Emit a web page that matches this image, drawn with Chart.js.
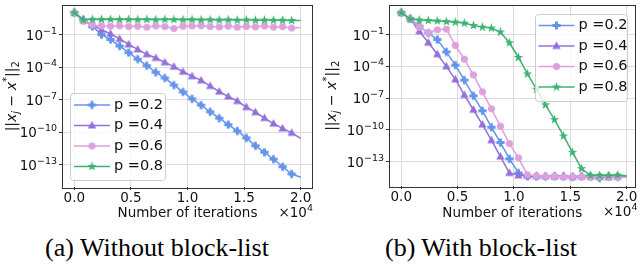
<!DOCTYPE html>
<html>
<head>
<meta charset="utf-8">
<script src="https://cdn.jsdelivr.net/npm/chart.js@4.4.0/dist/chart.umd.min.js"></script>
<style>
  body { margin: 0; background: #fff; }
  #wrap { position: relative; width: 640px; height: 268px; overflow: hidden; }
  .panel { position: absolute; top: 0; height: 232px; }
  .caption {
    position: absolute; top: 233px; transform: translateX(-50%); white-space: nowrap;
    font-family: "Liberation Serif", "Times New Roman", serif; font-size: 26px; color: #000;
  }
</style>
</head>
<body>
<div id="wrap">
  <div class="panel" style="left:0;width:320px"><canvas id="chartA"></canvas></div>
  <div class="panel" style="left:320px;width:320px"><canvas id="chartB"></canvas></div>
  <div class="caption" style="left:157px">(a) Without block-list</div>
  <div class="caption" style="left:481px">(b) With block-list</div>
</div>
<script>
// iterations where each point is drawn
const iterations = [0, 800, 1600, 2400, 3200, 4000, 4800, 5600, 6400, 7200, 8000, 8800, 9600,
  10400, 11200, 12000, 12800, 13600, 14400, 15200, 16000, 16800, 17600, 18400, 19200, 20000];
const seriesLabels = ["p =0.2", "p =0.4", "p =0.6", "p =0.8"];
const xTicks = [0, 5000, 10000, 15000, 20000];
const xTickLabels = ["0.0", "0.5", "1.0", "1.5", "2.0"];
const yTicks = [1e-1, 1e-4, 1e-7, 1e-10, 1e-13];
const yTickExponents = ["−1", "−4", "−7", "−10", "−13"];

// log10 of ||x_j - x*||_2, without block-list
const noBlockP02 = [1.03, 0.36, -0.24, -1.0, -1.45, -2.05, -2.66, -3.26, -3.86, -4.47, -5.0, -5.65, -6.28,
  -6.92, -7.5, -8.12, -8.7, -9.3, -9.88, -10.52, -11.25, -11.85, -12.48, -13.18, -13.85, -14.15];
const noBlockP04 = [1.03, 0.36, -0.15, -0.55, -0.91, -1.39, -1.9, -2.36, -2.81, -3.15, -3.55, -3.95, -4.42,
  -4.83, -5.22, -5.73, -6.25, -6.7, -7.12, -7.68, -8.15, -8.69, -9.2, -9.65, -10.05, -10.56];
const noBlockP06 = [1.03, 0.25, -0.12, -0.2, -0.22, -0.18, -0.25, -0.22, -0.3, -0.2, -0.25, -0.42, -0.22,
  -0.2, -0.18, -0.25, -0.28, -0.22, -0.3, -0.24, -0.28, -0.2, -0.3, -0.26, -0.38, -0.35];
const noBlockP08 = [1.03, 0.36, 0.42, 0.41, 0.42, 0.4, 0.41, 0.39, 0.4, 0.38, 0.4, 0.39, 0.38,
  0.39, 0.37, 0.38, 0.36, 0.37, 0.35, 0.36, 0.34, 0.35, 0.33, 0.34, 0.31, 0.3];

// log10 of ||x_j - x*||_2, with block-list
const blockP02 = [1.08, 0.5, -0.2, -0.85, -1.46, -2.63, -3.88, -5.3, -6.78, -8.2, -9.75, -11.2, -12.74,
  -14.08, -14.39, -14.4, -14.42, -14.38, -14.4, -14.45, -14.4, -14.42, -14.55, -14.4, -14.45, -14.4];
const blockP04 = [1.08, 0.5, -0.68, -1.75, -2.85, -4.0, -5.23, -6.7, -8.1, -9.5, -10.98, -12.53, -14.08,
  -14.3, -14.35, -14.38, -14.4, -14.42, -14.4, -14.45, -14.42, -14.4, -14.45, -14.48, -14.42, -14.45];
const blockP06 = [1.08, 0.5, -0.29, -0.8, -0.54, -0.47, -2.02, -3.32, -4.8, -6.41, -8.01, -9.66, -11.3,
  -12.65, -14.25, -14.35, -14.4, -14.38, -14.45, -14.4, -14.42, -14.5, -14.4, -14.45, -14.5, -14.45];
const blockP08 = [1.08, 0.47, 0.39, 0.34, 0.3, 0.24, 0.18, 0.09, -0.13, -0.29, -0.38, -0.75, -1.77,
  -3.16, -4.71, -6.16, -7.64, -9.03, -10.58, -12.13, -13.67, -14.3, -14.3, -14.32, -14.28, -14.35];

const colors = ["#6495ed", "#9370db", "#dda0dd", "#3cb371"];
const shapes = ["plus", "triangle", "circle", "star"];

const FONT = "'DejaVu Sans'";
const tickFont = { family: "DejaVu Sans", size: 13.5 };

// small canvases used as point markers
function makeMarker(shape, color) {
  const c = document.createElement("canvas");
  c.width = 11;
  c.height = 11;
  const g = c.getContext("2d");
  const cx = 5.5, cy = 5.5;
  g.fillStyle = color;
  g.beginPath();
  if (shape === "plus") {
    const a = 1.5, b = 4.1;
    const pts = [[-a, -b], [a, -b], [a, -a], [b, -a], [b, a], [a, a], [a, b], [-a, b], [-a, a], [-b, a], [-b, -a], [-a, -a]];
    pts.forEach((p) => g.lineTo(cx + p[0], cy + p[1]));
  } else if (shape === "triangle") {
    g.moveTo(cx, cy - 4.4);
    g.lineTo(cx + 4.2, cy + 3.1);
    g.lineTo(cx - 4.2, cy + 3.1);
  } else if (shape === "circle") {
    g.arc(cx, cy, 3.6, 0, Math.PI * 2);
  } else {
    for (let i = 0; i < 10; i++) {
      const r = i % 2 === 0 ? 5 : 2;
      const ang = -Math.PI / 2 + (i * Math.PI) / 5;
      g.lineTo(cx + r * Math.cos(ang), cy + r * Math.sin(ang));
    }
  }
  g.closePath();
  g.fill();
  return c;
}

const markers = shapes.map((s, i) => makeMarker(s, colors[i]));

function buildDatasets(series) {
  return series.map((vals, i) => ({
    label: seriesLabels[i],
    data: vals.map((v, k) => ({ x: iterations[k], y: Math.pow(10, v) })),
    borderColor: colors[i],
    backgroundColor: colors[i],
    borderWidth: 1.5,
    pointStyle: markers[i],
    pointRadius: (ctx) => (ctx.dataIndex === iterations.length - 1 ? 0 : 4),
    tension: 0,
    order: 4 - i,
  }));
}

// text made of pieces with their own size / style / vertical shift
function drawPieces(ctx, pieces, x, y, align) {
  const widths = pieces.map((p) => {
    ctx.font = (p.italic ? "italic " : "") + p.size + "px " + FONT;
    return ctx.measureText(p.text).width;
  });
  const total = widths.reduce((s, w) => s + w, 0);
  let cx = align === "right" ? x - total : align === "center" ? x - total / 2 : x;
  ctx.textAlign = "left";
  ctx.textBaseline = "alphabetic";
  pieces.forEach((p, i) => {
    ctx.font = (p.italic ? "italic " : "") + p.size + "px " + FONT;
    ctx.fillText(p.text, cx, y + (p.dy || 0));
    cx += widths[i];
  });
}

// box, y tick labels, axis titles, legend and x offset text
const extras = {
  id: "extras",
  afterDatasetsDraw(chart, args, opts) {
    const a = chart.chartArea;
    const ctx = chart.ctx;
    ctx.save();
    ctx.strokeStyle = "#333";
    ctx.lineWidth = 1;
    ctx.strokeRect(Math.round(a.left) - 0.5, Math.round(a.top) - 0.5, Math.round(a.right - a.left) + 1, Math.round(a.bottom - a.top) + 1);

    ctx.fillStyle = "#111";
    const ys = chart.scales.y;
    yTicks.forEach((v, i) => {
      const py = ys.getPixelForValue(v);
      drawPieces(ctx, [
        { text: "10", size: 13.5 },
        { text: yTickExponents[i], size: 9.5, dy: -6 },
      ], a.left - 6, py + 5, "right");
    });

    ctx.save();
    ctx.translate(11, (a.top + a.bottom) / 2);
    ctx.rotate(-Math.PI / 2);
    drawPieces(ctx, [
      { text: "||", size: 14 },
      { text: "x", size: 14, italic: true },
      { text: "j", size: 10, italic: true, dy: 3 },
      { text: " − ", size: 14 },
      { text: "x", size: 14, italic: true },
      { text: "*", size: 10, dy: -6 },
      { text: "||", size: 14 },
      { text: "2", size: 10, dy: 3 },
    ], 0, 5, "center");
    ctx.restore();

    drawPieces(ctx, [
      { text: "×10", size: 13.5 },
      { text: "4", size: 9.5, dy: -6 },
    ], a.right + opts.offsetShift, a.bottom + 30, "right");

    const w = opts.width, h = opts.height;
    const x = opts.corner === "ur" ? a.right - opts.pad - w : a.left + opts.pad;
    const y = opts.corner === "ur" ? a.top + opts.pad : a.bottom - opts.pad - h;
    ctx.beginPath();
    ctx.roundRect(Math.round(x) + 0.5, Math.round(y) + 0.5, w, h, 3);
    ctx.fillStyle = "rgba(255,255,255,0.8)";
    ctx.fill();
    ctx.strokeStyle = "#cccccc";
    ctx.lineWidth = 1;
    ctx.stroke();
    ctx.font = "14.5px " + FONT;
    ctx.textAlign = "left";
    ctx.textBaseline = "middle";
    chart.data.datasets.forEach((ds, i) => {
      const ly = y + 12 + i * 20.5;
      ctx.strokeStyle = ds.borderColor;
      ctx.lineWidth = 1.5;
      ctx.beginPath();
      ctx.moveTo(x + 4, ly);
      ctx.lineTo(x + 40, ly);
      ctx.stroke();
      ctx.drawImage(ds.pointStyle, x + 22 - 5.5, ly - 5.5);
      ctx.fillStyle = "#111";
      ctx.fillText(ds.label, x + 44, ly);
    });
    ctx.restore();
  },
};

function makeOptions(cfg) {
  return {
    responsive: true,
    maintainAspectRatio: false,
    animation: false,
    events: [],
    layout: { padding: { left: 0, right: cfg.padRight, top: 2, bottom: 0 } },
    scales: {
      x: {
        type: "linear",
        min: -1000,
        max: cfg.xMax,
        afterBuildTicks: (s) => { s.ticks = xTicks.map((v) => ({ value: v })); },
        afterFit: (s) => { s.height = cfg.xHeight; },
        ticks: { callback: (v, i) => xTickLabels[i], font: tickFont, color: "#111", padding: 0, maxRotation: 0, autoSkip: false },
        grid: { color: "#dcdcdc", tickColor: "#333", tickLength: 3 },
        border: { display: false },
        title: { display: true, text: "Number of iterations", font: tickFont, color: "#111", padding: { top: 0, bottom: 10 } },
      },
      y: {
        type: "logarithmic",
        min: Math.pow(10, cfg.yMin),
        max: Math.pow(10, cfg.yMax),
        afterBuildTicks: (s) => { s.ticks = yTicks.map((v) => ({ value: v })); },
        afterFit: (s) => { s.width = cfg.yWidth; },
        ticks: { display: false },
        grid: { color: "#dcdcdc", tickColor: "#333", tickLength: 4 },
        border: { display: false },
      },
    },
    plugins: {
      legend: { display: false },
      tooltip: { enabled: false },
      extras: cfg.legend,
    },
  };
}

new Chart(document.getElementById("chartA"), {
  type: "line",
  data: { datasets: buildDatasets([noBlockP02, noBlockP04, noBlockP06, noBlockP08]) },
  options: makeOptions({
    padRight: 8, xMax: 21000, xHeight: 45, yWidth: 63, yMin: -15.05, yMax: 1.69,
    legend: { corner: "ll", pad: 7, width: 95, height: 87, offsetShift: 1 },
  }),
  plugins: [extras],
});

new Chart(document.getElementById("chartB"), {
  type: "line",
  data: { datasets: buildDatasets([blockP02, blockP04, blockP06, blockP08]) },
  options: makeOptions({
    padRight: 5, xMax: 20700, xHeight: 46, yWidth: 70, yMin: -15.31, yMax: 1.755,
    legend: { corner: "ur", pad: 8, width: 92, height: 87, offsetShift: 3 },
  }),
  plugins: [extras],
});
</script>
</body>
</html>
